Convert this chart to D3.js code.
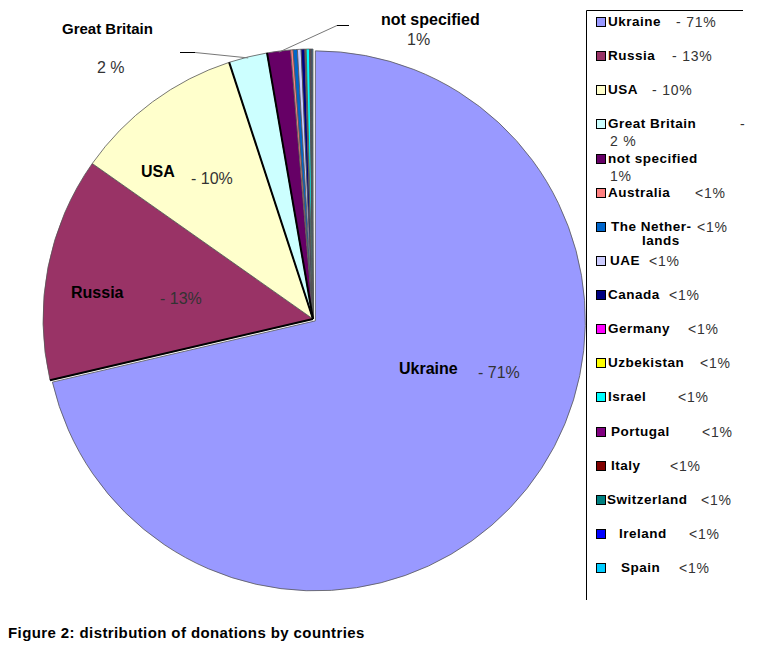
<!DOCTYPE html>
<html>
<head>
<meta charset="utf-8">
<script src="https://cdn.jsdelivr.net/npm/d3@7/dist/d3.min.js"></script>
<style>
  html, body { margin: 0; padding: 0; background: #fff; }
  svg { display: block; }
  text { font-family: Arial, "Liberation Sans", sans-serif; }
</style>
</head>
<body>
<svg id="chart" width="759" height="664"></svg>
<script>
// ---- data ----
const categories = ["Ukraine", "Russia", "USA", "Great Britain", "not specified", "Australia",
  "The Netherlands", "UAE", "Canada", "Germany", "Uzbekistan", "Israel", "Portugal",
  "Italy", "Switzerland", "Ireland", "Spain"];
const values = [71.3, 13.4, 10.2, 2.3, 1.4, 0.15, 0.25, 0.22, 0.22, 0.04, 0.04, 0.2, 0.04, 0.04, 0.04, 0.04, 0.04];
const colors = ["#9999FF", "#993366", "#FFFFCC", "#CCFFFF", "#660066", "#FF8080", "#0066CC",
  "#CCCCFF", "#000080", "#FF00FF", "#FFFF00", "#00FFFF", "#800080", "#800000", "#008080",
  "#0000FF", "#00CCFF"];
const legendNames = [["Ukraine"], ["Russia"], ["USA"], ["Great Britain"], ["not specified"], ["Australia"],
  ["The Nether-", "lands"], ["UAE"], ["Canada"], ["Germany"], ["Uzbekistan"], ["Israel"], ["Portugal"],
  ["Italy"], ["Switzerland"], ["Ireland"], ["Spain"]];
const legendPct = [["- 71%"], ["- 13%"], ["- 10%"], ["-", "2 %"], ["", "1%"], ["<1%"], ["<1%"], ["<1%"],
  ["<1%"], ["<1%"], ["<1%"], ["<1%"], ["<1%"], ["<1%"], ["<1%"], ["<1%"], ["<1%"]];
const sliceLabels = [["Ukraine", "- 71%"], ["Russia", "- 13%"], ["USA", "- 10%"],
  ["Great Britain", "2 %"], ["not specified", "1%"]];
const title = "Figure 2: distribution of donations by countries";

// ---- layout (positions, not data) ----
const cx = 313, cy = 319, R = 270;
const explodeIndex = 0, explodeDist = 3;
const legendNameX = [608, 608, 608, 608, 608, 608, 611, 610, 608, 608, 608, 608, 611, 611, 607, 619, 621];
const legendPctX = [[676], [672], [652], [740, 610], [0, 610], [695], [697], [649], [669], [688], [700], [678], [702], [670], [701], [689], [679]];
const labelPos = [
  { n: [399, 374], p: [478, 378], size: 16 },
  { n: [71, 298], p: [160, 304], size: 16 },
  { n: [141, 177], p: [191, 184], size: 16 },
  { n: [62, 34], p: [97, 73], size: 15 },
  { n: [381, 25], p: [407, 45], size: 16 }
];

const svg = d3.select("#chart");

// ---- pie ----
const pie = d3.pie().sort(null).value(d => d.v).startAngle(0).endAngle(2 * Math.PI);
const arcs = pie(values.map((v, i) => ({ v, i })));
const arc = d3.arc().innerRadius(0).outerRadius(R);

const g = svg.append("g").attr("transform", `translate(${cx},${cy})`);

g.selectAll("path.slice").data(arcs).join("path")
  .attr("class", "slice")
  .attr("transform", d => {
    if (d.index !== explodeIndex) return null;
    const a = (d.startAngle + d.endAngle) / 2;
    return `translate(${Math.sin(a) * explodeDist},${-Math.cos(a) * explodeDist})`;
  })
  .attr("d", arc)
  .attr("fill", d => colors[d.data.i])
  .attr("stroke", "#555")
  .attr("stroke-width", 0.8)
  .attr("stroke-linejoin", "round");

// darker radial edges (Excel style shadowing)
const thickEdges = [1, 3, 4];
g.selectAll("line.edge").data(thickEdges.map(i => arcs[i])).join("line")
  .attr("class", "edge")
  .attr("x1", 0).attr("y1", 0)
  .attr("x2", d => Math.sin(d.startAngle) * R)
  .attr("y2", d => -Math.cos(d.startAngle) * R)
  .attr("stroke", "#000").attr("stroke-width", 2);

// ---- slice labels ----
sliceLabels.forEach((lab, i) => {
  const p = labelPos[i];
  svg.append("text").attr("x", p.n[0]).attr("y", p.n[1])
    .attr("font-size", p.size).attr("font-weight", "bold").attr("fill", "#000").text(lab[0]);
  svg.append("text").attr("x", p.p[0]).attr("y", p.p[1])
    .attr("font-size", 16).attr("fill", "#333").text(lab[1]);
});

// leader lines for small labelled slices
function leader(i, elbow, end) {
  const a = (arcs[i].startAngle + arcs[i].endAngle) / 2;
  const px = cx + Math.sin(a) * (R - 1), py = cy - Math.cos(a) * (R - 1);
  svg.append("line").attr("x1", px).attr("y1", py).attr("x2", elbow[0]).attr("y2", elbow[1])
    .attr("stroke", "#777").attr("stroke-width", 1);
  svg.append("line").attr("x1", elbow[0]).attr("y1", elbow[1]).attr("x2", end[0]).attr("y2", end[1])
    .attr("stroke", "#000").attr("stroke-width", 1);
}
leader(3, [195, 52.5], [180, 52.5]);
leader(4, [337, 25.5], [349, 25.5]);

// ---- legend ----
const rowY = d3.scaleLinear().domain([0, categories.length - 1]).range([21, 567]);
const leg = svg.append("g");
leg.append("line").attr("x1", 586.5).attr("y1", 10.5).attr("x2", 743).attr("y2", 10.5)
  .attr("stroke", "#000").attr("stroke-width", 1);
leg.append("line").attr("x1", 586.5).attr("y1", 10.5).attr("x2", 586.5).attr("y2", 600)
  .attr("stroke", "#000").attr("stroke-width", 1);

categories.forEach((c, i) => {
  const yc = rowY(i);
  leg.append("rect").attr("x", 596.5).attr("y", Math.round(yc - 4) + 0.5).attr("width", 9).attr("height", 9)
    .attr("fill", colors[i]).attr("stroke", "#000").attr("stroke-width", 1);
  legendNames[i].forEach((t, k) => {
    leg.append("text")
      .attr("x", k === 0 ? legendNameX[i] : 642)
      .attr("y", yc + 5 + k * 14)
      .attr("font-size", 13.5).attr("font-weight", "bold").attr("letter-spacing", 0.5)
      .attr("fill", "#000").text(t);
  });
  legendPct[i].forEach((t, k) => {
    if (!t) return;
    leg.append("text")
      .attr("x", legendPctX[i][k])
      .attr("y", yc + 6 + k * 17)
      .attr("font-size", 14).attr("letter-spacing", 0.8)
      .attr("fill", "#333").text(t);
  });
});

// ---- title ----
svg.append("text").attr("x", 8).attr("y", 638)
  .attr("font-size", 15).attr("font-weight", "bold").attr("letter-spacing", 0.4)
  .attr("fill", "#000").text(title);
</script>
</body>
</html>
